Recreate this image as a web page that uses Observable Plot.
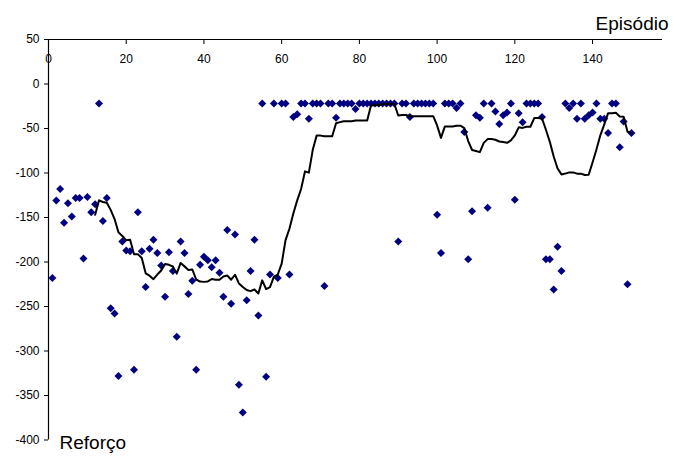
<!DOCTYPE html>
<html>
<head>
<meta charset="utf-8">
<script src="https://cdn.jsdelivr.net/npm/d3@7"></script>
<script src="https://cdn.jsdelivr.net/npm/@observablehq/plot@0.6"></script>
<style>
  html, body { margin: 0; padding: 0; background: #ffffff; }
  #chart { width: 673px; height: 457px; }
</style>
</head>
<body>
<div id="chart"></div>
<script>
// Reward (Reforço) per episode (Episódio 1..150)
const rewards = [
  -218, -131, -118, -156, -134, -149, -128, -128, -196, -127,
  -144, -135,  -22, -154, -128, -252, -258, -328, -177, -187,
  -188, -321, -144, -188, -228, -185, -175, -190, -204, -239,
  -189, -210, -284, -177, -190, -236, -221, -321, -203, -194,
  -198, -206, -198, -212, -239, -164, -247, -169, -338, -369,
  -243, -210, -175, -260,  -22, -329, -214,  -22, -218,  -22,
   -22, -214,  -37,  -34,  -22,  -22,  -39,  -22,  -22,  -22,
  -227,  -22,  -22,  -38,  -22,  -22,  -22,  -22,  -28,  -22,
   -22,  -22,  -22,  -22,  -22,  -22,  -22,  -22,  -22, -177,
   -22,  -22,  -37,  -22,  -22,  -22,  -22,  -22,  -22, -147,
  -190,  -22,  -22,  -22,  -27,  -22,  -54, -197, -143,  -35,
   -38,  -22, -139,  -22,  -31,  -45,  -35,  -32,  -22, -130,
   -33,  -43,  -22,  -22,  -22,  -22,  -37, -197, -197, -231,
  -183, -210,  -22,  -27,  -22,  -39,  -22,  -39,  -35,  -32,
   -22,  -39,  -39,  -55,  -22,  -22,  -71,  -42, -225,  -55
];
const episodes = d3.range(1, rewards.length + 1);
const movingAveragePeriod = 12;

const xTicks = [0, 20, 40, 60, 80, 100, 120, 140];
const yTicks = [50, 0, -50, -100, -150, -200, -250, -300, -350, -400];
const xDomain = [0, 158];
const yDomain = [-400, 50];
const xTitle = ["Episódio"];
const yTitle = ["Reforço"];

const data = episodes.map((e, i) => ({episode: e, reward: rewards[i]}));

const font = "'Liberation Sans', Arial, sans-serif";

const chart = Plot.plot({
  width: 673,
  height: 457,
  marginLeft: 48,
  marginRight: 11,
  marginTop: 39,
  marginBottom: 17.5,
  style: {fontFamily: font, fontSize: "12px", background: "#ffffff", color: "#000"},
  x: {domain: xDomain},
  y: {domain: yDomain},
  marks: [
    // x tick labels below the top axis line
    Plot.text(xTicks, {x: d => d, frameAnchor: "top", dy: 15, lineAnchor: "top", text: d => String(d), fontSize: 12, fill: "#000"}),
    // y axis
    Plot.axisY({anchor: "left", ticks: yTicks, tickSize: 4, tickPadding: 5, tickFormat: d => String(d), label: null, fontSize: 12}),
    // x ticks (pointing down from the top axis)
    Plot.axisX({anchor: "top", ticks: xTicks, tickSize: -4, fill: "none", label: null}),
    // axis lines
    Plot.ruleY([yDomain[1]], {x1: xDomain[0], x2: xDomain[1], stroke: "#000", strokeWidth: 1}),
    Plot.ruleX([xDomain[0]], {y1: yDomain[0], y2: yDomain[1], stroke: "#000", strokeWidth: 1.2}),
    // scatter
    Plot.dot(data, {x: "episode", y: "reward", symbol: "diamond2", r: 3.6, fill: "#000080", stroke: "none"}),
    // moving-average trendline (period 12)
    Plot.lineY(data, Plot.windowY(
      {k: movingAveragePeriod, anchor: "end", reduce: v => v.length < movingAveragePeriod ? NaN : d3.mean(v)},
      {x: "episode", y: "reward", stroke: "#000", strokeWidth: 2}
    )),
    // axis titles
    Plot.text(xTitle, {frameAnchor: "top-right", dx: 6, dy: -10, textAnchor: "end", lineAnchor: "bottom", text: d => d, fontSize: 19, fill: "#000"}),
    Plot.text(yTitle, {frameAnchor: "bottom-left", dx: 11, dy: 8.5, textAnchor: "start", lineAnchor: "bottom", text: d => d, fontSize: 19, fill: "#000"})
  ]
});

document.getElementById("chart").appendChild(chart);
</script>
</body>
</html>
